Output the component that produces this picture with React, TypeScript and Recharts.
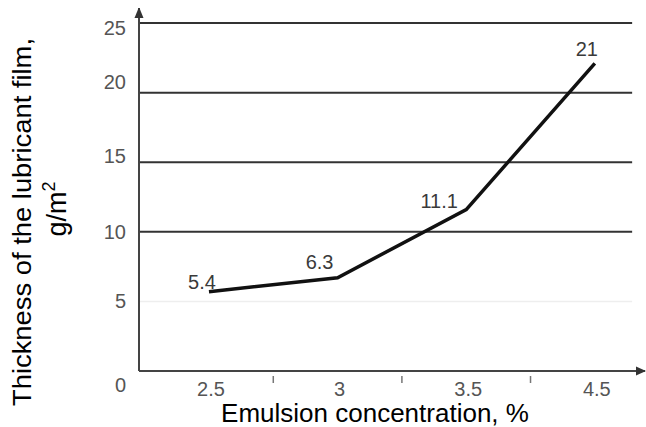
import React from "react";
import { LineChart, Line, XAxis, YAxis, ReferenceLine, LabelList } from "recharts";

// emulsion concentration, %
const concentration = ["2.5", "3", "3.5", "4.5"];
// line heights as drawn (g/m2)
const filmThickness = [5.7, 6.7, 11.6, 22.1];
// values printed next to the points
const filmLabels = ["5.4", "6.3", "11.1", "21"];
const yTicks = [0, 5, 10, 15, 20, 25];
const darkGrid = [10, 15, 20, 25];
const lightGrid = [5];
// category slots plus the small marks between them
const xTicks = [0, 0.5, 1, 1.5, 2, 2.5, 3];

const data = concentration.map((c, i) => ({
	idx: i,
	name: c,
	value: filmThickness[i],
	label: filmLabels[i],
}));

const FONT = '"Liberation Sans", Arial, sans-serif';
const X_MIN = -0.544;
const X_MAX = 3.39;
const GRID_END = 3.29;

const labelOffsets = [
	[-7, -10],
	[-18, -16],
	[-27, -9],
	[-8, -14],
];
const yLabelNudge: Record<number, number> = { 0: 14, 15: -6, 20: -11, 25: 5 };

const XTick = (props: any) => {
	const { x, y, payload } = props;
	const v = payload.value;
	if (!Number.isInteger(v)) {
		return <line x1={x} x2={x} y1={y + 5} y2={y + 12} stroke="#777" strokeWidth={1.5} />;
	}
	return (
		<text x={x + 2} y={y + 25} textAnchor="middle" fontSize={20} fill="#555" fontFamily={FONT}>
			{concentration[v]}
		</text>
	);
};

const YTick = (props: any) => {
	const { x, y, payload } = props;
	const nudge = yLabelNudge[payload.value] || 0;
	return (
		<text x={x - 13} y={y + 7 + nudge} textAnchor="end" fontSize={20} fill="#555" fontFamily={FONT}>
			{payload.value}
		</text>
	);
};

const PointLabel = (props: any) => {
	const { x, y, value, index } = props;
	const [dx, dy] = labelOffsets[index] || [0, -12];
	return (
		<text x={x + dx} y={y + dy + 7} textAnchor="middle" fontSize={20} fill="#3a3a3a" fontFamily={FONT}>
			{value}
		</text>
	);
};

const YTitle = () => (
	<g fontFamily={FONT} fill="#000">
		<text transform="translate(31,222) rotate(-90)" textAnchor="middle" fontSize={26} textLength={368} lengthAdjust="spacingAndGlyphs">
			Thickness of the lubricant film,
		</text>
		<text transform="translate(66,209) rotate(-90)" textAnchor="middle" fontSize={27}>
			<tspan>g/m</tspan>
			<tspan fontSize={18} dy={-11}>2</tspan>
		</text>
	</g>
);

const XTitle = (props: any) => {
	const { viewBox } = props;
	return (
		<text x={viewBox.x + 236} y={viewBox.y + 51} textAnchor="middle" fontSize={26} fill="#000" fontFamily={FONT}>
			Emulsion concentration, %
		</text>
	);
};

export default function App() {
	return (
		<div>
			<style>{"body{margin:0}"}</style>
			<svg style={{ position: "absolute", width: 0, height: 0 }}>
				<defs>
					<marker id="arrowX" markerUnits="userSpaceOnUse" markerWidth={10} markerHeight={10} refX={9} refY={5} orient="auto">
						<path d="M0,0.5 L10,5 L0,9.5 z" fill="#333" />
					</marker>
					<marker id="arrowY" markerUnits="userSpaceOnUse" markerWidth={10} markerHeight={12} refX={10} refY={5} orient="auto-start-reverse">
						<path d="M0,0.5 L11,5 L0,9.5 z" fill="#333" />
					</marker>
				</defs>
			</svg>
			<LineChart width={646} height={427} data={data} margin={{ top: 8, right: 1, bottom: 0, left: 79 }}>
				<XAxis
					type="number"
					dataKey="idx"
					domain={[X_MIN, X_MAX]}
					ticks={xTicks}
					allowDataOverflow
					interval={0}
					height={56}
					tickSize={0}
					tickMargin={0}
					tickLine={false}
					axisLine={{ stroke: "#444", strokeWidth: 2, markerEnd: "url(#arrowX)" }}
					tick={<XTick />}
					label={<XTitle />}
				/>
				<YAxis
					type="number"
					domain={[0, 26.08]}
					ticks={yTicks}
					allowDataOverflow
					interval={0}
					width={60}
					tickSize={0}
					tickMargin={0}
					tickLine={false}
					axisLine={{ stroke: "#444", strokeWidth: 2, markerStart: "url(#arrowY)" }}
					tick={<YTick />}
					label={<YTitle />}
				/>
				{lightGrid.map((v) => (
					<ReferenceLine
						key={`l${v}`}
						segment={[{ x: X_MIN, y: v }, { x: GRID_END, y: v }]}
						stroke="#eeeeee"
						strokeWidth={1.5}
					/>
				))}
				{darkGrid.map((v) => (
					<ReferenceLine
						key={`d${v}`}
						segment={[{ x: X_MIN, y: v }, { x: GRID_END, y: v }]}
						stroke="#333"
						strokeWidth={2}
					/>
				))}
				<Line
					type="linear"
					dataKey="value"
					stroke="#111"
					strokeWidth={3.5}
					dot={false}
					isAnimationActive={false}
				>
					<LabelList dataKey="label" content={<PointLabel />} />
				</Line>
			</LineChart>
		</div>
	);
}
